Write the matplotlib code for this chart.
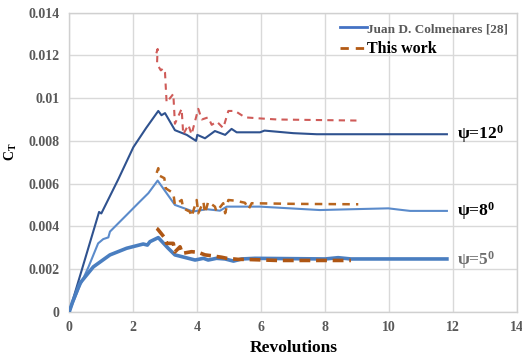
import matplotlib
matplotlib.use("Agg")
import matplotlib.pyplot as plt
from matplotlib.lines import Line2D

plt.rcParams['font.family'] = ['Liberation Serif', 'DejaVu Serif']
plt.rcParams['font.weight'] = 'bold'
plt.rcParams['mathtext.fontset'] = 'custom'
plt.rcParams['mathtext.rm'] = 'Liberation Serif:bold'
plt.rcParams['mathtext.it'] = 'Liberation Serif:bold'
plt.rcParams['mathtext.bf'] = 'Liberation Serif:bold'

# psi = 12 deg, reference (Colmenares)
rev_12_ref = [0, 0.93, 1.0, 1.53, 2.0, 2.4, 2.78, 2.88, 2.99, 3.3, 3.67, 3.96, 4.0, 4.24,
              4.55, 4.87, 5.07, 5.23, 5.96, 6.1, 7.0, 7.73, 11.8]
ct_12_ref = [0, 0.00467, 0.0046, 0.0062, 0.0077, 0.0086, 0.0094, 0.0092, 0.0093, 0.0085,
             0.00828, 0.0080, 0.00828, 0.00812, 0.00846, 0.00828, 0.00856, 0.0084, 0.0084,
             0.00848, 0.00836, 0.00831, 0.00831]
# psi = 12 deg, this work
rev_12_tw = [2.72, 2.76, 2.74, 2.86, 2.94, 2.99, 3.04, 3.2, 3.25, 3.3, 3.51, 3.56, 3.72, 3.82,
             4.03, 4.14, 4.34, 4.45, 4.61, 4.81, 4.97, 5.18, 5.49, 5.96, 6.5, 9.03]
ct_12_tw = [0.0121, 0.0123, 0.0116, 0.0113, 0.0114, 0.0112, 0.0098, 0.0101, 0.0102, 0.0088,
            0.0095, 0.0083, 0.00875, 0.0083, 0.0095, 0.0090, 0.0091, 0.00875, 0.0089, 0.0086,
            0.0094, 0.0094, 0.0091, 0.00905, 0.0090, 0.00895]

# psi = 8 deg, reference
rev_8_ref = [0, 0.3, 0.6, 0.9, 1.06, 1.22, 1.27, 1.79, 2.2, 2.47, 2.76, 3.3, 3.87, 4.29, 4.71,
             4.92, 5.96, 7.83, 8.87, 9.97, 10.3, 10.65, 11.8]
ct_8_ref = [0, 0.0011, 0.0021, 0.0032, 0.0034, 0.00348, 0.00375, 0.00453, 0.00515, 0.00555,
            0.00614, 0.0050, 0.00469, 0.0048, 0.00473, 0.00492, 0.00492, 0.00476, 0.0048,
            0.00484, 0.00478, 0.00472, 0.00472]
# psi = 8 deg, this work
rev_8_tw = [2.73, 2.78, 2.78, 2.97, 3.01, 3.25, 3.3, 3.51, 3.56, 3.77, 3.82, 3.98, 4.03, 4.19,
            4.24, 4.34, 4.55, 4.6, 4.81, 4.87, 4.97, 5.18, 5.49, 5.6, 5.7, 7.0, 9.03]
ct_8_tw = [0.0065, 0.00672, 0.0064, 0.00625, 0.00578, 0.00555, 0.0050, 0.00523, 0.00484,
           0.00468, 0.00445, 0.00523, 0.00461, 0.00515, 0.00461, 0.00515, 0.00492, 0.00468,
           0.00508, 0.00461, 0.00523, 0.0052, 0.0051, 0.0048, 0.00508, 0.00505, 0.00503]

# psi = 5 deg, reference
rev_5_ref = [0, 0.1, 0.33, 0.75, 1.27, 1.79, 2.31, 2.44, 2.52, 2.78, 3.09, 3.3, 3.93, 4.19,
             4.34, 4.6, 4.87, 5.13, 5.39, 5.8, 8.0, 8.4, 8.8, 11.8]
ct_5_ref = [0, 0.00045, 0.00133, 0.0021, 0.00266, 0.00297, 0.00317, 0.00312, 0.00328, 0.00347,
            0.00297, 0.00266, 0.00242, 0.0025, 0.00242, 0.0025, 0.00247, 0.00237, 0.00247,
            0.0025, 0.00247, 0.00253, 0.00247, 0.00247]
# psi = 5 deg, this work
rev_5_tw = [2.73, 2.76, 2.99, 3.04, 3.25, 3.3, 3.46, 3.53, 3.82, 4.03, 4.24, 4.45, 4.76, 4.92,
            5.28, 5.49, 6.5, 8.8]
ct_5_tw = [0.0039, 0.00387, 0.00344, 0.0032, 0.0032, 0.0028, 0.00304, 0.00273, 0.00281,
           0.00278, 0.00266, 0.00262, 0.00255, 0.0025, 0.00245, 0.00245, 0.0024, 0.0024]

x_ticks = [0, 2, 4, 6, 8, 10, 12, 14]
y_ticks = [0, 0.002, 0.004, 0.006, 0.008, 0.01, 0.012, 0.014]
y_tick_labels = ['0', '0.002', '0.004', '0.006', '0.008', '0.01', '0.012', '0.014']
legend_labels = ['Juan D. Colmenares [28]', 'This work']
curve_labels = ['ψ=12$^{0}$', 'ψ=8$^{0}$', 'ψ=5$^{0}$']
curve_label_y = [0.0083, 0.0047, 0.0024]

fig = plt.figure(figsize=(5.22, 3.58), dpi=100)
ax = fig.add_axes([0.1328, 0.1293, 0.8582, 0.8352])

ax.plot(rev_12_ref, ct_12_ref, color='#2F528F', lw=1.5, zorder=3)
ax.plot(rev_8_ref, ct_8_ref, color='#5B8BCB', lw=1.5, zorder=3)
ax.plot(rev_5_ref, ct_5_ref, color='#4A7EC0', lw=2.6, zorder=3)

ax.plot(rev_12_tw, ct_12_tw, color='#CF5B58', lw=1.5, ls=(0, (3, 2.5)), zorder=4)
ax.plot(rev_8_tw, ct_8_tw, color='#B8651E', lw=1.8, ls=(0, (3, 2.5)), zorder=4)
ax.plot(rev_5_tw, ct_5_tw, color='#AE5614', lw=2.6, ls=(0, (3, 1.6)), zorder=4)

ax.set_xlim(0, 14)
ax.set_ylim(0, 0.014)
ax.set_xticks(x_ticks)
ax.set_yticks(y_ticks)
ax.set_yticklabels(y_tick_labels)
ax.grid(True, color='#D9D9D9', lw=1.0)
ax.set_axisbelow(True)
for s in ax.spines.values():
    s.set_color('#D0D0D0')
    s.set_linewidth(1.0)
ax.tick_params(length=0, labelsize=10, labelcolor='#595959', pad=7)
for lab in ax.get_xticklabels() + ax.get_yticklabels():
    lab.set_fontweight('bold')

ax.set_xlabel('Revolutions', fontsize=12.5, fontweight='bold', color='black', labelpad=4)
ax.set_ylabel('C$_{T}$', fontsize=10, fontweight='bold', color='black')
ax.yaxis.set_label_coords(-0.112, 0.534)

handles = [Line2D([], [], color='#4472C4', lw=2),
           Line2D([], [], color='#B35A14', lw=2, ls=(0, (3, 2.5)))]
leg = ax.legend(handles, legend_labels, loc='upper right', bbox_to_anchor=(1.0, 1.0),
                frameon=False, handlelength=1.9, handletextpad=0.0, labelspacing=0.4,
                borderaxespad=0.3)
leg.get_texts()[0].set_color('#595959')
leg.get_texts()[0].set_fontsize(9.5)
leg.get_texts()[1].set_color('black')
leg.get_texts()[1].set_fontsize(11.5)

label_colors = ['black', 'black', '#6E6E6E']
for lab, yv, c in zip(curve_labels, curve_label_y, label_colors):
    ax.text(12.1, yv, lab, fontsize=12.5, fontweight='bold', color=c, va='center', ha='left')

fig.savefig('out.png', dpi=100)
